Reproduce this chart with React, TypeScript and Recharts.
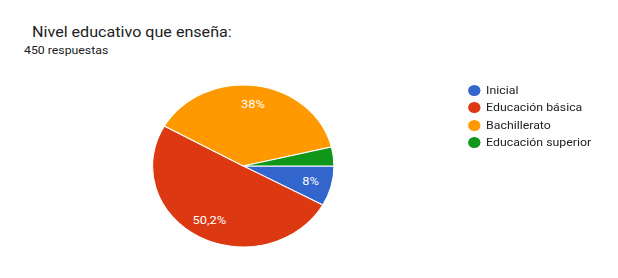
import React from 'react';
import { PieChart, Pie, Cell, Legend } from 'recharts';

const categories = ['Inicial', 'Educación básica', 'Bachillerato', 'Educación superior'];
const counts = [36, 226, 171, 17];
const percentLabels = ['8%', '50,2%', '38%', ''];
const colors = ['#3366cc', '#dc3912', '#ff9900', '#109618'];
const title = 'Nivel educativo que enseña:';
const subtitle = '450 respuestas';

const data = categories.map((name, i) => ({ name, value: counts[i], label: percentLabels[i], color: colors[i] }));

const SX = 1.12;
const W = 552;
const H = 278;
const FONT = 'Roboto, Arial, sans-serif';
const RAD = Math.PI / 180;

const renderLabel = (props: any) => {
  const { cx, cy, midAngle, index } = props;
  const lbl = percentLabels[index];
  if (!lbl) return null;
  const r = 62;
  const x = cx + r * Math.cos(-midAngle * RAD);
  const y = cy + r * Math.sin(-midAngle * RAD);
  return (
    <text x={x} y={y} fill="#ffffff" textAnchor="middle" dominantBaseline="central" fontSize={11.5} fontFamily={FONT}>
      {lbl}
    </text>
  );
};

const renderLegend = () => (
  <div style={{ fontFamily: FONT, fontSize: 11, color: '#222222' }}>
    {data.map((d) => (
      <div key={d.name} style={{ display: 'flex', alignItems: 'center', height: 17.3 }}>
        <span style={{ display: 'inline-block', width: 11, height: 11, borderRadius: '50%', background: d.color, marginRight: 5, flexShrink: 0 }} />
        <span style={{ whiteSpace: 'nowrap' }}>{d.name}</span>
      </div>
    ))}
  </div>
);

export default function App() {
  return (
    <div style={{ position: 'absolute', left: 0, top: 0, width: W, height: H, transform: `scaleX(${SX})`, transformOrigin: '0 0', background: '#ffffff' }}>
      <svg width={W} height={H} style={{ position: 'absolute', left: 0, top: 0 }}>
        <text x={28.6} y={36.7} fontFamily={FONT} fontSize={14.4} fill="#202124">{title}</text>
        <text x={21.4} y={54} fontFamily={FONT} fontSize={11} fill="#202124">{subtitle}</text>
      </svg>
      <div style={{ position: 'absolute', left: 0, top: 0 }}>
        <PieChart width={W} height={H} margin={{ top: 0, right: 0, bottom: 0, left: 0 }}>
          <Pie
            data={data}
            dataKey="value"
            nameKey="name"
            cx={217.2}
            cy={166}
            outerRadius={81}
            startAngle={0}
            endAngle={-360}
            stroke="#ffffff"
            strokeWidth={1}
            label={renderLabel}
            labelLine={false}
            isAnimationActive={false}
          >
            {data.map((d) => (
              <Cell key={d.name} fill={d.color} />
            ))}
          </Pie>
          <Legend content={renderLegend} wrapperStyle={{ left: 418, top: 82, width: 140 }} />
        </PieChart>
      </div>
    </div>
  );
}
